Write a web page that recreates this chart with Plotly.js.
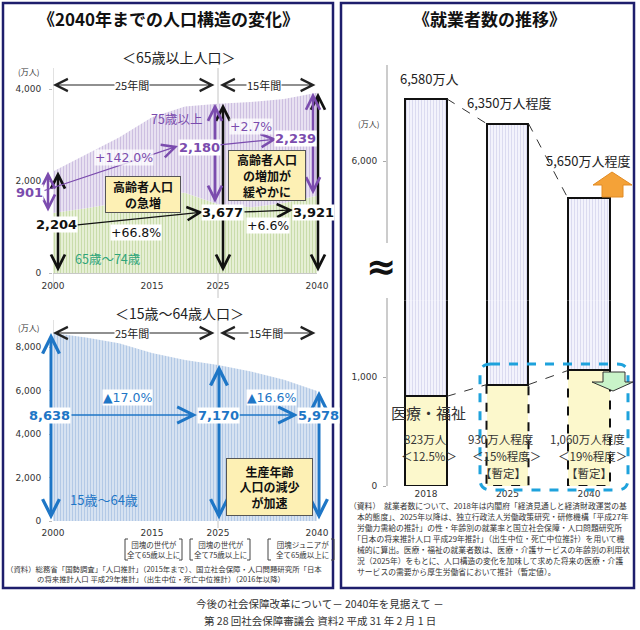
<!DOCTYPE html>
<html><head><meta charset="utf-8">
<script src="https://cdn.plot.ly/plotly-3.0.1.min.js"></script>
<style>html,body{margin:0;padding:0;background:#fff}#chart{width:640px;height:630px}</style>
</head><body><div id="chart"></div>
<script>
// ---------------- data ----------------
const years = [2000, 2005, 2010, 2015, 2020, 2025, 2030, 2035, 2040];
const age65to74 = [1303, 1407, 1529, 1755, 1747, 1497, 1428, 1522, 1682];
const age75plus = [901, 1164, 1419, 1632, 1872, 2180, 2288, 2260, 2239];
const age15to64 = [8638, 8442, 8174, 7728, 7406, 7170, 6875, 6494, 5978];
const keyYears = [2000, 2025, 2040];
const xTicks = [2000, 2015, 2025, 2040];
const empYears = ['2018', '2025', '2040'];
const empTotal = [6580, 6350, 5650];
const empMedical = [823, 930, 1060];
const empTotalSuffix = ['万人', '万人程度', '万人程度'];
const empMedSuffix = ['万人', '万人程度', '万人程度'];
const empProvisional = ['', '【暫定】', '【暫定】'];

// ---------------- helpers ----------------
const W = 640, H = 630;
const X = p => p / W, Y = p => 1 - p / H;
const JP = 'Noto Sans CJK JP, sans-serif';
const NUM = 'DejaVu Sans, Noto Sans CJK JP, sans-serif';
const fmt = v => String(v).replace(/\B(?=(\d{3})+(?!\d))/g, ',');
const age65plus = age65to74.map((v, i) => v + age75plus[i]);
const at = (arr, yr) => arr[years.indexOf(yr)];
const empOther = empTotal.map((v, i) => v - empMedical[i]);
const empIdx = empYears.map((_, i) => i);
const barW = 0.515, hw = barW / 2;

const PURPLE = '#7b4cae', BLUE = '#1e76c6', GREEN_T = '#2ea57a';

// axis geometry (pixels)
const s1 = (273 - 89) / 4000, r1 = 4400, top1 = 273 - r1 * s1;
const s2 = (521 - 347) / 8000, r2 = 9000, top2 = 521 - r2 * s2;
const u = 81.5, c0 = 426;
const s3 = (486 - 377) / 1000, r3 = 1700, top3 = 486 - r3 * s3;
const s4 = 0.107, lo4 = 6000 - (top3 - 161) / s4, hi4 = 6000 + (161 - 65) / s4;

const tickFont = {family: NUM, size: 9, color: '#333'};

// ---------------- traces ----------------
const traces = [
  {x: years, y: age65to74, xaxis: 'x', yaxis: 'y', type: 'scatter', mode: 'lines',
   line: {width: 0}, fill: 'tozeroy', fillcolor: '#e9f0d9',
   fillpattern: {shape: '|', bgcolor: '#eaf1da', fgcolor: '#c9dcab', size: 3, solidity: 0.4}, hoverinfo: 'skip'},
  {x: years, y: age65plus, xaxis: 'x', yaxis: 'y', type: 'scatter', mode: 'lines',
   line: {width: 0}, fill: 'tonexty', fillcolor: '#e7e0f1',
   fillpattern: {shape: '|', bgcolor: '#ebe5f3', fgcolor: '#cdbfe1', size: 3, solidity: 0.4}, hoverinfo: 'skip'},
  {x: years, y: age15to64, xaxis: 'x2', yaxis: 'y2', type: 'scatter', mode: 'lines',
   line: {width: 0}, fill: 'tozeroy', fillcolor: '#d8e4f2',
   fillpattern: {shape: '|', bgcolor: '#dae5f3', fgcolor: '#b3c9e6', size: 3, solidity: 0.4}, hoverinfo: 'skip'}
];
['3', '4'].forEach(k => {
  traces.push({x: empIdx, y: empMedical, xaxis: 'x' + k, yaxis: 'y' + k, type: 'bar', width: barW,
    marker: {color: '#fcf8cc', line: {color: '#111', width: [2, 0, 0]}}, hoverinfo: 'skip'});
  traces.push({x: empIdx, y: empOther, xaxis: 'x' + k, yaxis: 'y' + k, type: 'bar', width: barW,
    marker: {color: '#f1f1fb', line: {color: '#111', width: 2},
      pattern: {shape: '|', fgcolor: '#d8d8ee', bgcolor: '#f3f3fc', size: 3, solidity: 0.3}}, hoverinfo: 'skip'});
});
// dashed connectors between bars
traces.push({x: [0 + hw, 1 - hw, null, 1 + hw, 2 - hw], y: [empTotal[0], empTotal[1], null, empTotal[1], empTotal[2]],
  xaxis: 'x4', yaxis: 'y4', type: 'scatter', mode: 'lines', line: {color: '#333', width: 1, dash: 'dash'}, hoverinfo: 'skip'});
traces.push({x: [0 + hw, 1 - hw, null, 1 + hw, 2 - hw], y: [empMedical[0], empMedical[1], null, empMedical[1], empMedical[2]],
  xaxis: 'x3', yaxis: 'y3', type: 'scatter', mode: 'lines', line: {color: '#333', width: 1, dash: 'dash'}, hoverinfo: 'skip'});

// ---------------- annotations ----------------
function T(text, x, y, o) {
  const a = {xref: 'paper', yref: 'paper', x: X(x), y: Y(y), text: text, showarrow: false,
    xanchor: 'center', yanchor: 'middle', font: {family: JP, size: 11, color: '#222'}};
  return Object.assign(a, o || {});
}
function PA(hx, hy, tx, ty, color, w, both, size) {
  return {xref: 'paper', yref: 'paper', x: X(hx), y: Y(hy), axref: 'pixel', ayref: 'pixel',
    ax: tx - hx, ay: ty - hy, text: '', showarrow: true, arrowhead: 5, startarrowhead: 5,
    arrowside: both ? 'end+start' : 'end', arrowcolor: color, arrowwidth: w,
    arrowsize: size || 1, startarrowsize: size || 1, standoff: 0, startstandoff: 0};
}
function VA(xa, ya, x, y0, y1, color, shift, w) {
  return {xref: xa, yref: ya, axref: xa, ayref: ya, x: x, y: y1, ax: x, ay: y0, text: '',
    showarrow: true, arrowhead: 5, startarrowhead: 5, arrowside: 'end+start', arrowcolor: color,
    arrowwidth: w, arrowsize: 1.1, startarrowsize: 1.1, xshift: shift, standoff: 0, startstandoff: 0};
}
const pct = (a, b) => (b / a - 1) * 100;
const v65 = keyYears.map(y => at(age65plus, y));
const v75 = keyYears.map(y => at(age75plus, y));
const v6574 = keyYears.map(y => at(age65to74, y));
const vW = keyYears.map(y => at(age15to64, y));

const ann = [];
// vertical double arrows (top)
[5, 5, 1].forEach((sh, i) => ann.push(VA('x', 'y', keyYears[i], 0, v65[i], '#111', sh, 2.5)));
[-5, -3, -4].forEach((sh, i) => ann.push(VA('x', 'y', keyYears[i], v6574[i], v65[i], PURPLE, sh, 2.5)));
// vertical double arrows (bottom)
[-2, 1, 2].forEach((sh, i) => ann.push(VA('x2', 'y2', keyYears[i], 0, vW[i], BLUE, sh, 3)));
// period arrows
ann.push(PA(53, 85, 216, 85, '#222', 1.2, true, 2));
ann.push(PA(220, 85, 317, 85, '#222', 1.2, true, 2));
ann.push(PA(53, 333, 216, 333, '#222', 1.2, true, 2));
ann.push(PA(220, 333, 317, 333, '#222', 1.2, true, 2));
// change arrows
ann.push(PA(178, 146, 43, 191, PURPLE, 1.3, false, 2));
ann.push(PA(277, 139, 218, 145, PURPLE, 1.3, false, 2));
ann.push(PA(203, 212, 76, 225, '#111', 1.3, false, 2));
ann.push(PA(293, 210, 243, 212, '#111', 1.3, false, 2));
ann.push(PA(197, 415, 70, 415, BLUE, 1.6, false, 2));
ann.push(PA(298, 415, 238, 415, BLUE, 1.6, false, 2));

// titles
ann.push(T('<b>《2040年までの人口構造の変化》</b>', 168, 18, {font: {family: JP, size: 17, color: '#111'}}));
ann.push(T('<b>《就業者数の推移》</b>', 489, 18, {font: {family: JP, size: 17, color: '#111'}}));
ann.push(T('＜65歳以上人口＞', 179, 57, {font: {family: JP, size: 14, color: '#222'}}));
ann.push(T('＜15歳～64歳人口＞', 179, 313, {font: {family: JP, size: 14, color: '#222'}}));
ann.push(T('(万人)', 28, 71, {font: {family: JP, size: 8, color: '#333'}}));
ann.push(T('(万人)', 28, 327, {font: {family: JP, size: 8, color: '#333'}}));
ann.push(T('(万人)', 368, 124, {font: {family: JP, size: 8, color: '#333'}}));
ann.push(T('25年間', 132, 85, {bgcolor: '#fff', borderpad: 0, font: {family: JP, size: 11, color: '#222'}}));
ann.push(T('15年間', 264, 85, {bgcolor: '#fff', borderpad: 0, font: {family: JP, size: 11, color: '#222'}}));
ann.push(T('25年間', 132, 333, {bgcolor: '#fff', borderpad: 0, font: {family: JP, size: 11, color: '#222'}}));
ann.push(T('15年間', 266, 333, {bgcolor: '#fff', borderpad: 0, font: {family: JP, size: 11, color: '#222'}}));

// top-left labels
const bN = (c) => ({family: NUM, size: 12.5, color: c});
ann.push(T('75歳以上', 176, 118, {font: {family: JP, size: 12.5, color: PURPLE}}));
ann.push(T('65歳～74歳', 108, 258, {font: {family: JP, size: 12.5, color: GREEN_T}}));
ann.push(T('+' + pct(v75[0], v75[1]).toFixed(1) + '%', 124, 157, {bgcolor: 'rgba(255,255,255,0.75)', borderpad: 0, font: bN(PURPLE)}));
ann.push(T('+' + pct(v75[1], v75[2]).toFixed(1) + '%', 251, 127, {bgcolor: 'rgba(255,255,255,0.75)', borderpad: 0, font: bN(PURPLE)}));
ann.push(T('+' + pct(v65[0], v65[1]).toFixed(1) + '%', 136, 232, {bgcolor: '#fff', borderpad: 0, font: bN('#111')}));
ann.push(T('+' + pct(v65[1], v65[2]).toFixed(1) + '%', 268, 225, {bgcolor: '#fff', borderpad: 0, font: bN('#111')}));
ann.push(T('<b>' + fmt(v75[0]) + '</b>', 29, 192, {bgcolor: '#fff', borderpad: 0, font: {family: NUM, size: 13, color: PURPLE}}));
ann.push(T('<b>' + fmt(v75[1]) + '</b>', 199, 147, {bgcolor: '#fff', borderpad: 0, font: {family: NUM, size: 13, color: PURPLE}}));
ann.push(T('<b>' + fmt(v75[2]) + '</b>', 295, 138, {bgcolor: '#fff', borderpad: 0, font: {family: NUM, size: 13, color: PURPLE}}));
ann.push(T('<b>' + fmt(v65[0]) + '</b>', 56, 224, {bgcolor: '#fff', borderpad: 0, font: {family: NUM, size: 13, color: '#111'}}));
ann.push(T('<b>' + fmt(v65[1]) + '</b>', 222, 212, {bgcolor: '#fff', borderpad: 0, font: {family: NUM, size: 13, color: '#111'}}));
ann.push(T('<b>' + fmt(v65[2]) + '</b>', 313, 212, {bgcolor: '#fff', borderpad: 0, font: {family: NUM, size: 13, color: '#111'}}));
// bottom-left labels
ann.push(T('▲' + Math.abs(pct(vW[0], vW[1])).toFixed(1) + '%', 127, 397, {bgcolor: '#fff', borderpad: 0, font: bN(BLUE)}));
ann.push(T('▲' + Math.abs(pct(vW[1], vW[2])).toFixed(1) + '%', 271, 397, {bgcolor: '#fff', borderpad: 0, font: bN(BLUE)}));
ann.push(T('<b>' + fmt(vW[0]) + '</b>', 49, 415, {bgcolor: '#fff', borderpad: 0, font: {family: NUM, size: 13, color: BLUE}}));
ann.push(T('<b>' + fmt(vW[1]) + '</b>', 218, 415, {bgcolor: '#fff', borderpad: 0, font: {family: NUM, size: 13, color: BLUE}}));
ann.push(T('<b>' + fmt(vW[2]) + '</b>', 318, 415, {bgcolor: '#fff', borderpad: 0, font: {family: NUM, size: 13, color: BLUE}}));
ann.push(T('15歳～64歳', 104, 499, {font: {family: JP, size: 13, color: BLUE}}));

// yellow boxes
const boxStyle = {bgcolor: '#fdf0b4', bordercolor: '#555', borderwidth: 1, borderpad: 1, align: 'center', valign: 'middle'};
ann.push(T('<b>高齢者人口<br>の急増</b>', 142.5, 194, Object.assign({width: 72, height: 33, font: {family: JP, size: 12, color: '#111'}}, boxStyle)));
ann.push(T('<b>高齢者人口<br>の増加が<br>緩やかに</b>', 266.5, 175, Object.assign({width: 74, height: 47, font: {family: JP, size: 12, color: '#111'}}, boxStyle)));
ann.push(T('<b>生産年齢<br>人口の減少<br>が加速</b>', 269, 486.5, Object.assign({width: 83, height: 54, font: {family: JP, size: 12, color: '#111'}}, boxStyle)));

// bracket notes
const noteF = {family: JP, size: 7.5, color: '#333'};
ann.push(T('団塊の世代が<br>全て65歳以上に', 153, 549, {font: noteF}));
ann.push(T('団塊の世代が<br>全て75歳以上に', 220, 549, {font: noteF}));
ann.push(T('団塊ジュニアが<br>全て65歳以上に', 302, 549, {font: noteF}));
// left source
ann.push(T('（資料）総務省「国勢調査」「人口推計」（2015年まで）、国立社会保障・人口問題研究所「日本', 4, 568, {xanchor: 'left', font: {family: JP, size: 7.4, color: '#333'}}));
ann.push(T('の将来推計人口 平成29年推計」（出生中位・死亡中位推計）（2016年以降）', 35, 578, {xanchor: 'left', font: {family: JP, size: 7.4, color: '#333'}}));

// right panel labels
const topShift = [[3, 9], [1, 10], [-1, 26]];
empIdx.forEach(i => {
  ann.push({xref: 'x4', yref: 'y4', x: i, y: empTotal[i], text: fmt(empTotal[i]) + empTotalSuffix[i], showarrow: false,
    xanchor: 'center', yanchor: 'bottom', xshift: topShift[i][0], yshift: topShift[i][1],
    font: {family: JP, size: 13, color: '#222'}});
});
ann.push(T('<b>≈</b>', 381, 266, {font: {family: NUM, size: 36, color: '#111'}}));
ann.push(T('医療・福祉', 428, 412, {font: {family: JP, size: 15, color: '#333'}}));
const medPct = empMedical.map((v, i) => v / empTotal[i] * 100);
const medPctTxt = ['＜' + medPct[0].toFixed(1) + '%＞', '＜' + Math.round(medPct[1]) + '%程度＞', '＜' + Math.round(medPct[2]) + '%程度＞'];
const medX = [[425, 429, 0], [501, 506, 503], [587, 592, 589]];
empIdx.forEach(i => {
  ann.push(T(fmt(empMedical[i]) + empMedSuffix[i], medX[i][0], 439, {font: {family: JP, size: 11.5, color: '#333'}}));
  ann.push(T(medPctTxt[i], medX[i][1], 456, {font: {family: JP, size: 11.5, color: '#333'}}));
  if (empProvisional[i]) ann.push(T(empProvisional[i], medX[i][2], 473, {font: {family: JP, size: 11.5, color: '#333'}}));
});
const srcR = [
  '（資料）　就業者数について、2018年は内閣府「経済見通しと経済財政運営の基',
  '本的態度」、2025年以降は、独立行政法人労働政策研究・研修機構「平成27年',
  '労働力需給の推計」の性・年齢別の就業率と国立社会保障・人口問題研究所',
  '「日本の将来推計人口 平成29年推計」（出生中位・死亡中位推計）を用いて機',
  '械的に算出。医療・福祉の就業者数は、医療・介護サービスの年齢別の利用状',
  '況（2025年）をもとに、人口構造の変化を加味して求めた将来の医療・介護',
  'サービスの需要から厚生労働省において推計（暫定値）。'
];
srcR.forEach((t, i) => ann.push(T(t, i === 0 ? 347 : (i === 3 ? 351 : 355), 505 + i * 11, {xanchor: 'left', font: {family: JP, size: 7.8, color: '#333'}})));
// footer
ann.push(T('今後の社会保障改革について－ 2040年を見据えて －', 320, 603, {font: {family: JP, size: 10.5, color: '#333'}}));
ann.push(T('第 28 回社会保障審議会 資料2 平成 31 年 2 月 1 日', 320, 620, {font: {family: JP, size: 10.5, color: '#333'}}));

// ---------------- shapes ----------------
const P = (a, b) => X(a) + ',' + Y(b);
const shapes = [];
const navy = '#1e1e6c';
shapes.push({type: 'rect', xref: 'paper', yref: 'paper', x0: X(3), x1: X(333), y0: Y(588), y1: Y(3), line: {color: navy, width: 2.5}});
shapes.push({type: 'rect', xref: 'paper', yref: 'paper', x0: X(341), x1: X(634), y0: Y(588), y1: Y(3), line: {color: navy, width: 2.5}});
// vertical guide lines
shapes.push({type: 'line', xref: 'x', yref: 'paper', x0: keyYears[0], x1: keyYears[0], y0: Y(290), y1: Y(68), line: {color: '#c4c4c4', width: 1}, layer: 'below'});
shapes.push({type: 'line', xref: 'x', yref: 'paper', x0: keyYears[1], x1: keyYears[1], y0: Y(298), y1: Y(68), line: {color: '#c4c4c4', width: 1}, layer: 'below'});
shapes.push({type: 'line', xref: 'x2', yref: 'paper', x0: keyYears[0], x1: keyYears[0], y0: Y(521), y1: Y(320), line: {color: '#c4c4c4', width: 1}, layer: 'below'});
shapes.push({type: 'line', xref: 'x2', yref: 'paper', x0: keyYears[1], x1: keyYears[1], y0: Y(528), y1: Y(320), line: {color: '#c4c4c4', width: 1}, layer: 'below'});
// brackets
[[125, 182], [190, 250], [268, 334]].forEach(([a, b]) => {
  shapes.push({type: 'path', xref: 'paper', yref: 'paper', path: 'M' + P(a + 3, 539) + 'L' + P(a, 539) + 'L' + P(a, 560) + 'L' + P(a + 3, 560), line: {color: '#444', width: 1}});
  shapes.push({type: 'path', xref: 'paper', yref: 'paper', path: 'M' + P(b - 3, 539) + 'L' + P(b, 539) + 'L' + P(b, 560) + 'L' + P(b - 3, 560), line: {color: '#444', width: 1}});
});
// broken axis line (right)
shapes.push({type: 'line', xref: 'paper', yref: 'paper', x0: X(387), x1: X(387), y0: Y(243), y1: Y(65), line: {color: '#bbb', width: 1.5}});
shapes.push({type: 'line', xref: 'paper', yref: 'paper', x0: X(387), x1: X(387), y0: Y(486), y1: Y(298), line: {color: '#bbb', width: 1.5}});
// dashed outlines of provisional medical bars
[1, 2].forEach(i => {
  shapes.push({type: 'path', xref: 'x3', yref: 'y3',
    path: 'M' + (i - hw) + ',' + empMedical[i] + 'L' + (i - hw) + ',0L' + (i + hw) + ',0L' + (i + hw) + ',' + empMedical[i],
    line: {color: '#111', width: 2, dash: 'dash'}});
});
// rounded dashed blue frame
(function () {
  const x0 = 480, x1 = 628, y0 = 364, y1 = 490, r = 11;
  const p = 'M' + P(x0 + r, y0) + 'L' + P(x1 - r, y0) + 'Q' + P(x1, y0) + ' ' + P(x1, y0 + r) +
    'L' + P(x1, y1 - r) + 'Q' + P(x1, y1) + ' ' + P(x1 - r, y1) + 'L' + P(x0 + r, y1) +
    'Q' + P(x0, y1) + ' ' + P(x0, y1 - r) + 'L' + P(x0, y0 + r) + 'Q' + P(x0, y0) + ' ' + P(x0 + r, y0) + 'Z';
  shapes.push({type: 'path', xref: 'paper', yref: 'paper', path: p, line: {color: '#1ea2dc', width: 3, dash: 'dash'}});
})();
// green down arrow
shapes.push({type: 'path', xref: 'paper', yref: 'paper',
  path: 'M' + P(603, 372) + 'L' + P(625, 372) + 'L' + P(625, 382) + 'L' + P(633, 382) + 'L' + P(613, 391) + 'L' + P(592, 382) + 'L' + P(603, 382) + 'Z',
  fillcolor: '#c9f3c9', line: {color: '#333', width: 1}});
// orange up arrow
shapes.push({type: 'path', xref: 'paper', yref: 'paper',
  path: 'M' + P(602, 197) + 'L' + P(623, 197) + 'L' + P(623, 185) + 'L' + P(632, 185) + 'L' + P(612, 172) + 'L' + P(593, 185) + 'L' + P(602, 185) + 'Z',
  fillcolor: '#f4a238', line: {color: '#e38b22', width: 1}});

// ---------------- layout ----------------
const layout = {
  width: W, height: H, margin: {l: 0, r: 0, t: 0, b: 0}, showlegend: false,
  paper_bgcolor: '#fff', plot_bgcolor: 'rgba(0,0,0,0)', barmode: 'stack',
  font: {family: JP, color: '#222'},
  xaxis: {domain: [X(53), X(317)], range: [2000, 2040], tickvals: xTicks, tickfont: tickFont, ticks: '',
    showline: true, linecolor: '#c8c8c8', showgrid: false, zeroline: false, anchor: 'y', ticklabelstandoff: 4, fixedrange: true},
  yaxis: {domain: [Y(273), Y(top1)], range: [0, r1], tickvals: [0, 2000, 4000], tickformat: ',d', tickfont: tickFont,
    ticks: 'outside', ticklen: 3, tickcolor: '#bbb', showgrid: false, zeroline: false, showline: false, anchor: 'x', ticklabelstandoff: 6},
  xaxis2: {domain: [X(53), X(317)], range: [2000, 2040], tickvals: xTicks, tickfont: tickFont, ticks: '',
    showline: false, showgrid: false, zeroline: false, anchor: 'y2', ticklabelstandoff: 5},
  yaxis2: {domain: [Y(521), Y(top2)], range: [0, r2], tickvals: [0, 2000, 4000, 6000, 8000], tickformat: ',d', tickfont: tickFont,
    ticks: 'outside', ticklen: 3, tickcolor: '#bbb', showgrid: false, zeroline: false, showline: false, anchor: 'x2', ticklabelstandoff: 6},
  xaxis3: {domain: [X(387), X(630)], range: [(387 - c0) / u, (630 - c0) / u], tickvals: empIdx, ticktext: empYears,
    tickfont: tickFont, ticks: '', showline: false, showgrid: false, zeroline: false, anchor: 'y3', ticklabelstandoff: 1},
  yaxis3: {domain: [Y(486), Y(top3)], range: [0, r3], tickvals: [0, 1000], tickformat: ',d', tickfont: tickFont,
    ticks: 'outside', ticklen: 3, tickcolor: '#aaa', showgrid: false, zeroline: false, showline: false, anchor: 'x3', ticklabelstandoff: 4},
  xaxis4: {domain: [X(387), X(630)], range: [(387 - c0) / u, (630 - c0) / u], visible: false, anchor: 'y4'},
  yaxis4: {domain: [Y(top3), Y(65)], range: [lo4, hi4], tickvals: [6000], tickformat: ',d', tickfont: tickFont,
    ticks: 'outside', ticklen: 3, tickcolor: '#aaa', showgrid: false, zeroline: false, showline: false, anchor: 'x4', ticklabelstandoff: 4},
  annotations: ann,
  shapes: shapes
};
Plotly.newPlot('chart', traces, layout, {staticPlot: true, displayModeBar: false});
</script>
</body></html>
